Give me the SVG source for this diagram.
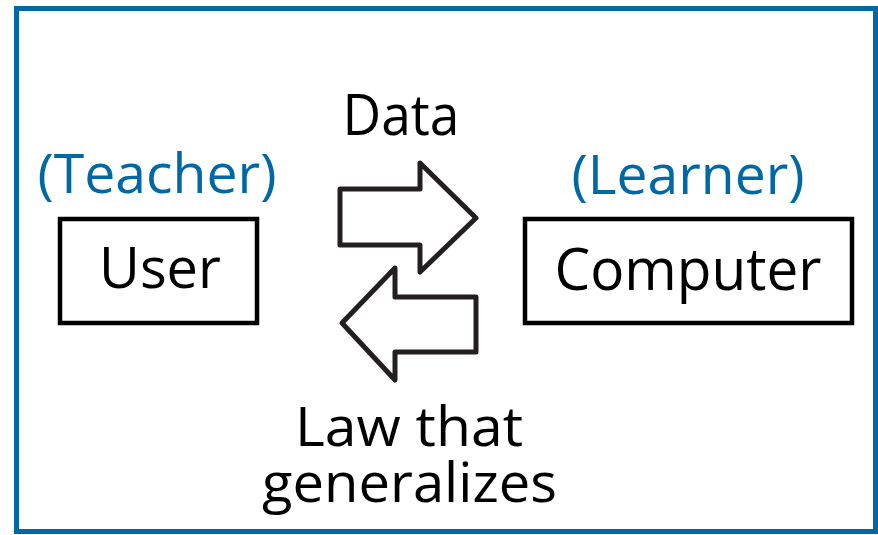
<svg xmlns="http://www.w3.org/2000/svg" width="878" height="535" viewBox="0 0 878 535">
<style>
.box{fill:#fff;stroke:#000;stroke-width:4.5}
.arr{fill:#fff;stroke:#231f20;stroke-width:5;stroke-linejoin:round}
.t{font-family:"Open Sans","Noto Sans",sans-serif;fill:#000}
.b{font-family:"Open Sans","Noto Sans",sans-serif;fill:#0068a5}
</style>
<rect x="0" y="0" width="878" height="535" fill="#fff"/>
<rect x="16.5" y="8.5" width="859" height="523" fill="none" stroke="#0068a5" stroke-width="5"/>
<g id="user">
<rect class="box" x="60" y="219" width="197" height="104"/>
<text class="t" x="160" y="288" font-size="56" text-anchor="middle" textLength="122" lengthAdjust="spacingAndGlyphs">User</text>
</g>
<g id="teacher-label">
<text class="b" x="157" y="193" font-size="55" text-anchor="middle" textLength="239" lengthAdjust="spacingAndGlyphs">(Teacher)</text>
</g>
<g id="computer">
<rect class="box" x="525" y="219" width="327" height="104"/>
<text class="t" x="688" y="290" font-size="58" text-anchor="middle" textLength="267" lengthAdjust="spacingAndGlyphs">Computer</text>
</g>
<g id="learner-label">
<text class="b" x="688" y="194" font-size="55" text-anchor="middle" textLength="233" lengthAdjust="spacingAndGlyphs">(Learner)</text>
</g>
<g id="connectors">
<path class="arr" d="M340,189 H420 V163 L476,218 L420,272 V245 H340 Z"/>
<path class="arr" d="M476,297 H395 V268 L342,323 L395,380 V352 H476 Z"/>
<text class="t" x="401" y="135" font-size="56" text-anchor="middle" textLength="117" lengthAdjust="spacingAndGlyphs">Data</text>
<text class="t" x="409" y="446" font-size="54" text-anchor="middle" textLength="228" lengthAdjust="spacingAndGlyphs">Law that</text>
<text class="t" x="409.5" y="502" font-size="54" text-anchor="middle" textLength="295" lengthAdjust="spacingAndGlyphs">generalizes</text>
</g>
</svg>
